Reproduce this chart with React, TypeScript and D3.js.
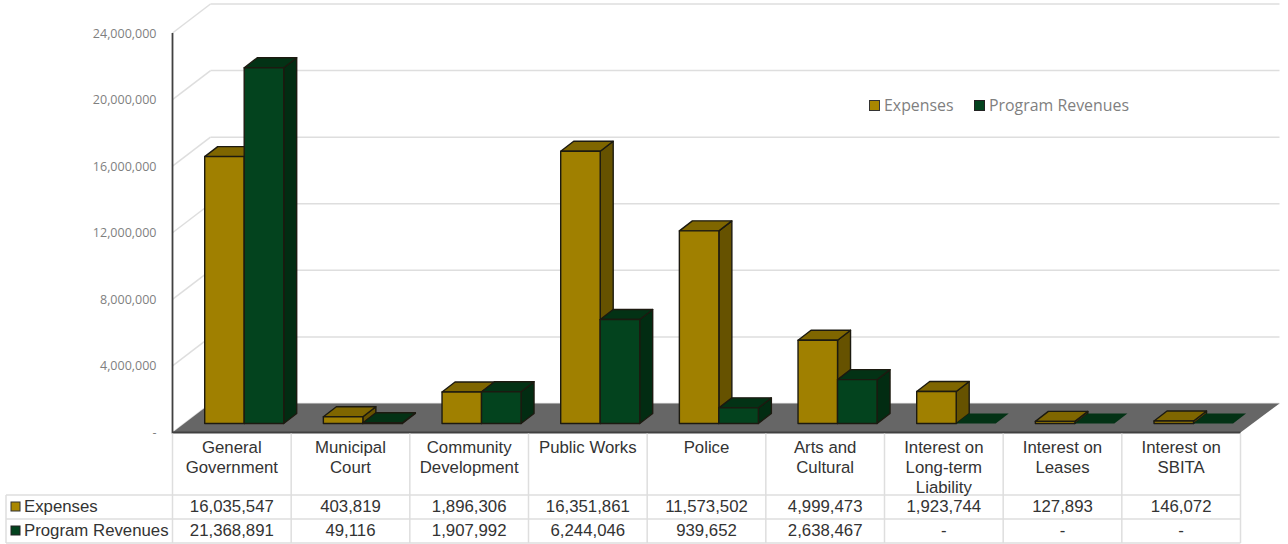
import React from "react";
import * as d3 from "d3";

const categories = [
  ["General", "Government"],
  ["Municipal", "Court"],
  ["Community", "Development"],
  ["Public Works"],
  ["Police"],
  ["Arts and", "Cultural"],
  ["Interest on", "Long-term", "Liability"],
  ["Interest on", "Leases"],
  ["Interest on", "SBITA"],
];
const expenses = [16035547, 403819, 1896306, 16351861, 11573502, 4999473, 1923744, 127893, 146072];
const programRevenues: (number | null)[] = [21368891, 49116, 1907992, 6244046, 939652, 2638467, null, null, null];
const yTicks = [0, 4000000, 8000000, 12000000, 16000000, 20000000, 24000000];

const EXP = { front: "#a08000", top: "#7f6600", side: "#665200", swatch: "#a98700" };
const REV = { front: "#03431e", top: "#033215", side: "#022c12", swatch: "#03431e" };

const left = 172.5;
const right = 1240.5;
const axisBase = 432.5;
const axisTop = 33;
const wallDx = 38;
const wallDy = -29;
const barDx = 13;
const barDy = -10;
const barBase = 423.5;
const rowLines = [495, 519, 543];
const tableLeft = 6;

const fmt = d3.format(",");
const xScale = d3.scaleBand<number>().domain(d3.range(categories.length)).range([left, right]);
const yScale = d3.scaleLinear().domain([0, 24000000]).range([axisBase, axisTop]);
const heightOf = (v: number) => axisBase - yScale(v);

function poly(pts: [number, number][]) {
  return d3.line()(pts)! + "Z";
}

function Bar({ x, w, value, c }: { x: number; w: number; value: number; c: typeof EXP }) {
  const top = barBase - heightOf(value);
  if (value === 0) {
    return (
      <path
        d={poly([[x, barBase], [x + w, barBase], [x + w + barDx, barBase + barDy], [x + barDx, barBase + barDy]])}
        fill={c.top}
      />
    );
  }
  return (
    <g stroke="#1c1a10" strokeWidth={1.4} strokeLinejoin="round">
      <path d={poly([[x + w, barBase], [x + w + barDx, barBase + barDy], [x + w + barDx, top + barDy], [x + w, top]])} fill={c.side} />
      <path d={poly([[x, top], [x + w, top], [x + w + barDx, top + barDy], [x + barDx, top + barDy]])} fill={c.top} />
      <rect x={x} y={top} width={w} height={barBase - top} fill={c.front} />
    </g>
  );
}

export default function App() {
  const band = xScale.bandwidth();
  const barW = 39.5;
  const pad = 32.2;
  const gridColor = "#dedede";
  const tableFont = "'Liberation Sans', Arial, sans-serif";
  const chartFont = "'Open Sans', sans-serif";
  return (
    <svg width={1288} height={544} style={{ position: "absolute", left: 0, top: 0, background: "#fff" }}>
      {/* back wall and side wall gridlines */}
      {yTicks.map((t) => (
        <g key={t} stroke={gridColor} strokeWidth={1.5} fill="none">
          <line x1={left} y1={yScale(t)} x2={left + wallDx} y2={yScale(t) + wallDy} />
          <line x1={left + wallDx} y1={yScale(t) + wallDy} x2={right + wallDx + 1} y2={yScale(t) + wallDy} />
        </g>
      ))}

      {/* floor */}
      <path
        d={poly([[left, axisBase], [left + wallDx, axisBase + wallDy], [right + wallDx + 1, axisBase + wallDy], [right, axisBase]])}
        fill="#666666"
      />

      {/* bars: the revenue bar sits in front of the expense bar's side face */}
      {categories.map((_, i) => {
        const x0 = xScale(i)! + pad;
        return (
          <g key={i}>
            <Bar x={x0} w={barW} value={expenses[i]} c={EXP} />
            <Bar x={x0 + barW} w={barW} value={programRevenues[i] ?? 0} c={REV} />
          </g>
        );
      })}

      {/* value axis */}
      <path d={`M${left},${axisTop}V${axisBase}H${right}`} fill="none" stroke="#404040" strokeWidth={1.8} />
      {yTicks.map((t) => (
        <text key={t} x={156.5} y={yScale(t) + 4.5} textAnchor="end" fontFamily={chartFont} fontSize={12.5} fill="#7f7f7f">
          {t === 0 ? "-" : fmt(t)}
        </text>
      ))}

      {/* legend */}
      <g fontFamily={chartFont} fontSize={15.9} fill="#7f7f7f">
        <rect x={869.5} y={100.5} width={10} height={10} fill={EXP.swatch} stroke="#333" strokeWidth={1} />
        <text x={884} y={111}>Expenses</text>
        <rect x={974.5} y={100.5} width={10} height={10} fill={REV.swatch} stroke="#222" strokeWidth={1} />
        <text x={989} y={111}>Program Revenues</text>
      </g>

      {/* data table */}
      <g stroke={gridColor} strokeWidth={1.5} fill="none">
        {d3.range(categories.length + 1).map((i) => {
          const x = i === categories.length ? right : xScale(i)!;
          return <line key={i} x1={x} y1={axisBase + 1} x2={x} y2={rowLines[2]} />;
        })}
        <line x1={tableLeft} y1={rowLines[0]} x2={tableLeft} y2={rowLines[2]} />
        {rowLines.map((y) => (
          <line key={y} x1={tableLeft} y1={y} x2={right} y2={y} />
        ))}
      </g>
      <g fontFamily={tableFont} fontSize={16.8} fill="#333333">
        {categories.map((lines, i) => (
          <text key={i} textAnchor="middle">
            {lines.map((l, j) => (
              <tspan key={j} x={xScale(i)! + band / 2} y={452.5 + j * 20}>{l}</tspan>
            ))}
          </text>
        ))}
        {expenses.map((v, i) => (
          <text key={i} x={xScale(i)! + band / 2} y={512} textAnchor="middle">{fmt(v)}</text>
        ))}
        {programRevenues.map((v, i) => (
          <text key={i} x={xScale(i)! + band / 2} y={536} textAnchor="middle">{v === null ? "-" : fmt(v)}</text>
        ))}
        <rect x={11} y={502} width={9} height={9} fill={EXP.swatch} stroke="#333" strokeWidth={1} />
        <text x={24} y={512}>Expenses</text>
        <rect x={11} y={526} width={9} height={9} fill={REV.swatch} stroke="#222" strokeWidth={1} />
        <text x={24} y={536}>Program Revenues</text>
      </g>
    </svg>
  );
}
